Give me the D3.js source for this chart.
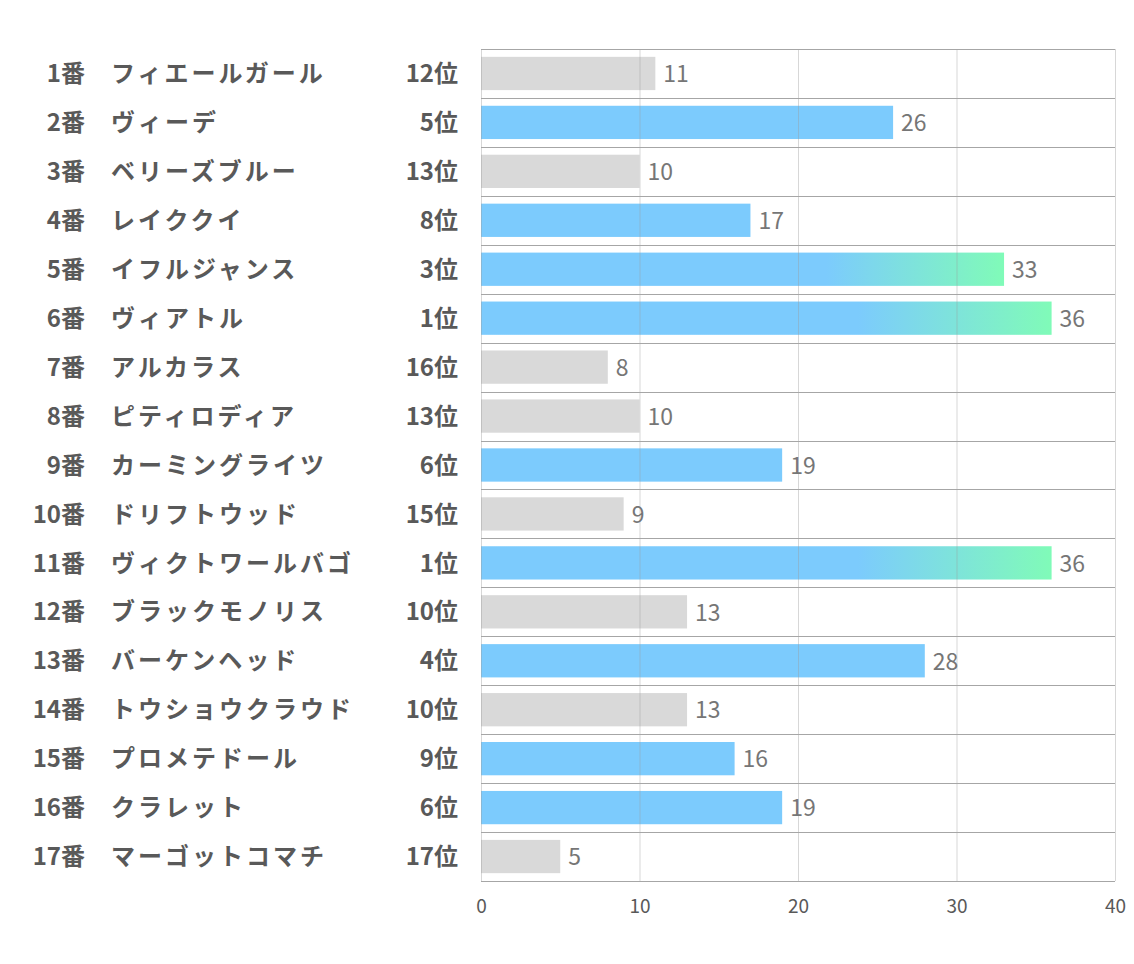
<!DOCTYPE html>
<html>
<head>
<meta charset="utf-8">
<script src="https://cdn.jsdelivr.net/npm/d3@7"></script>
<style>
  body { margin: 0; background: #fff; }
  text { font-family: "Noto Sans CJK JP", sans-serif; }
</style>
</head>
<body>
<svg class="chart"></svg>
<script>
const numbers = ["1番", "2番", "3番", "4番", "5番", "6番", "7番", "8番", "9番", "10番",
  "11番", "12番", "13番", "14番", "15番", "16番", "17番"];
const names = ["フィエールガール", "ヴィーデ", "ベリーズブルー", "レイククイ", "イフルジャンス",
  "ヴィアトル", "アルカラス", "ピティロディア", "カーミングライツ", "ドリフトウッド",
  "ヴィクトワールバゴ", "ブラックモノリス", "バーケンヘッド", "トウショウクラウド",
  "プロメテドール", "クラレット", "マーゴットコマチ"];
const ranks = [12, 5, 13, 8, 3, 1, 16, 13, 6, 15, 1, 10, 4, 10, 9, 6, 17];
const values = [11, 26, 10, 17, 33, 36, 8, 10, 19, 9, 36, 13, 28, 13, 16, 19, 5];
const xTicks = [0, 10, 20, 30, 40];

const width = 1134,
  height = 964,
  plotLeft = 481, plotRight = 1115,
  plotTop = 49, plotBottom = 881,
  gray = "#d9d9d9",
  blue = "#7ccbfd",
  green = "#80fbb8",
  labelColor = "#595959";

const rows = d3.range(values.length);

const chart = d3.select(".chart")
  .attr("width", width)
  .attr("height", height);

const grad = chart.append("defs").append("linearGradient")
  .attr("id", "topGrad")
  .attr("x1", "0").attr("x2", "1").attr("y1", "0").attr("y2", "0");
grad.append("stop").attr("offset", "0").attr("stop-color", blue);
grad.append("stop").attr("offset", "0.66").attr("stop-color", blue);
grad.append("stop").attr("offset", "1").attr("stop-color", green);

const x = d3.scaleLinear().domain([0, 40]).range([plotLeft, plotRight]);
const band = d3.scaleBand().domain(rows).range([plotTop, plotBottom]);
const y = d3.scaleBand().domain(rows).range([plotTop, plotBottom])
  .paddingInner(0.32).paddingOuter(0.16);

// bars
chart.append("g").selectAll("rect")
  .data(rows)
  .enter().append("rect")
  .attr("x", x(0))
  .attr("y", i => y(i))
  .attr("width", i => x(values[i]) - x(0))
  .attr("height", y.bandwidth())
  .attr("fill", i => ranks[i] <= 3 ? "url(#topGrad)" : ranks[i] <= 9 ? blue : gray);

// vertical grid on top, faint
const xAxis = d3.axisBottom(x)
  .tickValues(xTicks)
  .tickSize(-(plotBottom - plotTop))
  .tickPadding(19);
const gx = chart.append("g")
  .attr("transform", `translate(0, ${plotBottom})`)
  .call(xAxis);
gx.select(".domain").remove();
gx.selectAll(".tick line")
  .attr("stroke", "#9a9a9a")
  .attr("stroke-opacity", 0.4);
gx.selectAll(".tick text")
  .attr("fill", labelColor)
  .style("font-size", "19px")
  .style("font-family", "'Noto Sans CJK JP', sans-serif");

// row separators
chart.append("g").selectAll("line")
  .data(d3.range(values.length + 1))
  .enter().append("line")
  .attr("x1", plotLeft).attr("x2", plotRight)
  .attr("y1", i => Math.round(plotTop + i * band.step()) + 0.5)
  .attr("y2", i => Math.round(plotTop + i * band.step()) + 0.5)
  .attr("stroke", "#a6a6a6")
  .attr("stroke-width", 1);

// value labels
chart.append("g").selectAll("text")
  .data(rows)
  .enter().append("text")
  .attr("x", i => x(values[i]) + 8)
  .attr("y", i => band(i) + band.step() / 2)
  .attr("dy", "0.38em")
  .attr("fill", "#767676")
  .style("font-size", "23px")
  .text(i => values[i]);

// left labels
const lab = chart.append("g")
  .attr("fill", labelColor)
  .style("font-size", "24px")
  .style("font-weight", "bold");

lab.selectAll(".num")
  .data(rows)
  .enter().append("text")
  .attr("class", "num")
  .attr("x", 85)
  .attr("y", i => band(i) + band.step() / 2)
  .attr("dy", "0.36em")
  .attr("text-anchor", "end")
  .text(i => numbers[i]);

lab.selectAll(".name")
  .data(rows)
  .enter().append("text")
  .attr("class", "name")
  .attr("x", 111)
  .attr("y", i => band(i) + band.step() / 2)
  .attr("dy", "0.36em")
  .style("letter-spacing", "3px")
  .text(i => names[i]);

lab.selectAll(".rank")
  .data(rows)
  .enter().append("text")
  .attr("class", "rank")
  .attr("x", 458)
  .attr("y", i => band(i) + band.step() / 2)
  .attr("dy", "0.36em")
  .attr("text-anchor", "end")
  .text(i => ranks[i] + "位");
</script>
</body>
</html>
